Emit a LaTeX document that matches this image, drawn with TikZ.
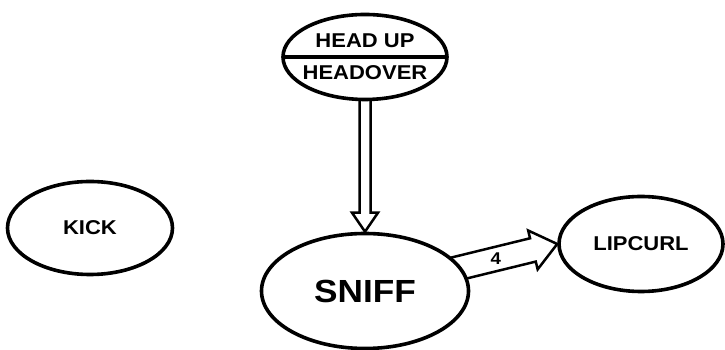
\documentclass[tikz,border=0pt]{standalone}
\usepackage{fontspec}
\setmainfont{Liberation Sans}[FakeStretch=1.1]
\usepackage{tikz}
\usetikzlibrary{shapes.geometric, shapes.multipart, calc}

\pgfdeclarelayer{background}
\pgfsetlayers{background,main}

% Hollow block arrow: tail, tip, half shaft width, half head width, head length
\newcommand{\blockarrow}[5]{%
    \coordinate (headbase) at ($(#2)!#5!(#1)$);
    \draw[blockline] ($(#1)!#3!90:(#2)$) -- ($(headbase)!#3!90:(#2)$)
        -- ($(headbase)!#4!90:(#2)$) -- (#2) -- ($(headbase)!#4!-90:(#2)$)
        -- ($(headbase)!#3!-90:(#2)$) -- ($(#1)!#3!-90:(#2)$);
}

\begin{document}
\begin{tikzpicture}[
            x=1pt, y=1pt,
            font=\bfseries,
            state/.style={ellipse, draw, line width=3.6pt, fill=white, inner sep=0pt,
                font=\bfseries\fontsize{20}{24}\selectfont},
            blockline/.style={line width=2.5pt, line join=miter}
        ]

        \useasboundingbox (0,0) rectangle (725,350);

        % Column of the vertical link
        \def\xmid{365}

        % --- States ---
        \node[state, minimum width=165pt, minimum height=93pt] (kick) at (90,122) {KICK};
        \node[state, minimum width=207pt, minimum height=115pt,
              font=\bfseries\fontsize{32}{36}\selectfont] (sniff) at (\xmid,59) {SNIFF};
        \node[state, minimum width=164pt, minimum height=95pt] (lipcurl) at (641,106) {LIPCURL};
        \node[state, ellipse split, minimum width=164pt, minimum height=85pt,
              inner xsep=-20pt, inner ysep=7pt] (headup) at (\xmid,293)
              {HEAD UP \nodepart{lower} HEADOVER};

        % --- Block arrows, kept behind the states ---
        \begin{pgfonlayer}{background}
            \blockarrow{headup.center}{sniff.north}{5.5pt}{13pt}{19pt}
            \blockarrow{sniff.center}{lipcurl.west}{12pt}{20pt}{25pt}
        \end{pgfonlayer}

        % Transition count
        \path (sniff.center) -- (lipcurl.west)
            node[pos=0.68, font=\bfseries\fontsize{17}{19}\selectfont] (count) {4};

\end{tikzpicture}
\end{document}
